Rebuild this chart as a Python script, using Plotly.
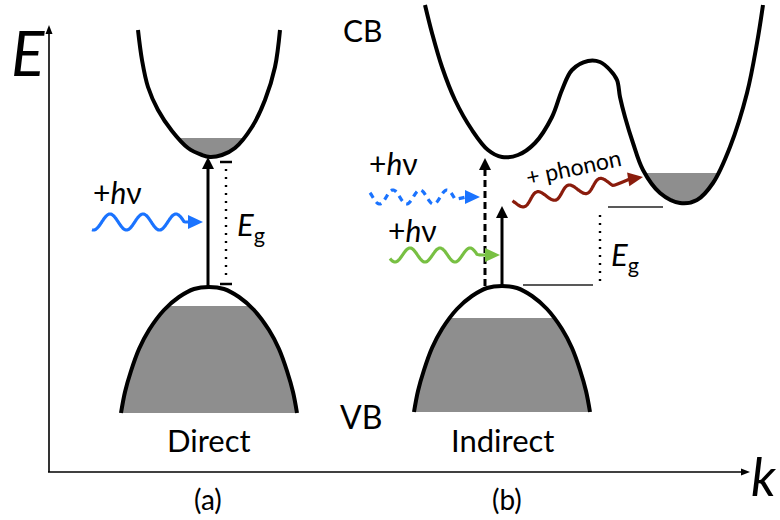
import numpy as np
import plotly.graph_objects as go

# ---- band curves: k position and energy row (energy grows upward on screen) ----
direct_cb_k = [138, 142, 148, 158, 172, 188, 202, 210, 222, 235, 252, 265, 275, 280]
direct_cb_E = [30, 60, 87, 110, 131, 148, 155, 157, 155, 148, 127, 100, 67, 30]

direct_vb_k = [121, 125, 131, 139, 149, 164, 179, 194, 209, 224, 239, 254, 269, 279, 287, 293, 297]
direct_vb_E = [413, 392, 371, 349, 330, 310, 297, 289, 287, 289, 297, 310, 330, 349, 371, 392, 413]

indirect_cb_k = [425, 432, 442, 455, 472, 488, 502, 518, 535, 552, 562, 572, 588, 600, 610,
                 617, 620, 625, 633, 643, 660, 680, 697, 713, 730, 747, 757, 763]
indirect_cb_E = [5, 33, 67, 100, 130, 150, 157, 155, 143, 117, 90, 70, 61, 62, 70,
                 80, 97, 117, 143, 170, 193, 203, 200, 183, 147, 93, 43, 5]

indirect_vb_k = [414, 418, 424, 432, 442, 457, 472, 487, 502, 517, 532, 547, 562, 572, 580, 586, 590]
indirect_vb_E = [412, 391, 370, 348, 329, 309, 296, 288, 286, 288, 296, 309, 329, 348, 370, 391, 412]

# occupation levels (filled states)
direct_cb_fill = 138
direct_vb_fill = 306
indirect_cb_fill = 173
indirect_vb_fill = 318

# transitions: (k, E_start, E_end)
direct_arrow = [208, 286, 157]
indirect_dashed_arrow = [485, 286, 158]
indirect_solid_arrow = [502, 286, 206]

# gap markers
direct_gap = [226, 162, 284]           # k, top, bottom
indirect_gap_top = [608, 663, 207]     # k0, k1, E
indirect_gap_bottom = [523, 593, 285]  # k0, k1, E
indirect_gap_k = 600

# photons / phonon: start (k, E), wave end (k, E), tip (k, E)
photon_direct = [(92, 222), (184, 222), (203, 222)]
photon_indirect_blue = [(370, 197), (455, 197), (480, 197)]
photon_indirect_green = [(390, 255), (477, 255), (500, 255)]
phonon_path = [(513, 203), (612, 182), (643, 177)]

BLUE = "#1a73ff"
GREEN = "#78c043"
DARKRED = "#8a1c0c"
GREY = "#8e8e8e"
FONT = "Lato"

fig = go.Figure()


def add_line(x, y, color="black", width=4, dash=None, shape="linear"):
    fig.add_trace(go.Scatter(x=x, y=y, mode="lines", hoverinfo="skip",
                             line=dict(color=color, width=width, dash=dash, shape=shape)))


def add_poly(x, y, color):
    fig.add_trace(go.Scatter(x=x, y=y, mode="lines", fill="toself", fillcolor=color,
                             line=dict(width=0, color=color), hoverinfo="skip"))


def fill_region(k, e, level):
    """Polygon of the curve part lying below the occupation level (screen-wise)."""
    px, py = [], []
    for i in range(len(k)):
        if i > 0 and (e[i - 1] - level) * (e[i] - level) < 0:
            t = (level - e[i - 1]) / (e[i] - e[i - 1])
            px.append(k[i - 1] + t * (k[i] - k[i - 1]))
            py.append(level)
        if e[i] >= level:
            px.append(k[i])
            py.append(e[i])
    return px, py


def arrowhead(tip, direction, length, half, color):
    d = np.array(direction, float)
    d /= np.linalg.norm(d)
    n = np.array([-d[1], d[0]])
    tip = np.array(tip, float)
    base = tip - d * length
    p1 = base + n * half
    p2 = base - n * half
    add_poly([tip[0], p1[0], p2[0], tip[0]], [tip[1], p1[1], p2[1], tip[1]], color)


def photon(path, color, period, amp, first_peak, width=3.2, dash=None, head=(15, 7)):
    (x0, y0), (x1, y1), (xt, yt) = path
    d = np.array([x1 - x0, y1 - y0], float)
    L = np.linalg.norm(d)
    d /= L
    n = np.array([d[1], -d[0]])  # perpendicular pointing up on screen
    s = np.linspace(0, L, 200)
    phase = np.pi / 2 - 2 * np.pi * first_peak / period
    off = amp * np.sin(2 * np.pi * s / period + phase)
    wx = x0 + d[0] * s + n[0] * off
    wy = y0 + d[1] * s + n[1] * off
    tipdir = np.array([xt - x1, yt - y1], float)
    tipdir /= np.linalg.norm(tipdir)
    bx, by = xt - tipdir[0] * (head[0] - 1), yt - tipdir[1] * (head[0] - 1)
    add_line(list(wx) + [bx], list(wy) + [by], color=color, width=width, dash=dash,
             shape="spline")
    arrowhead((xt, yt), tipdir, head[0], head[1], color)


# ---- occupied states ----
for k, e, lvl in [(direct_cb_k, direct_cb_E, direct_cb_fill),
                  (direct_vb_k, direct_vb_E, direct_vb_fill),
                  (indirect_cb_k, indirect_cb_E, indirect_cb_fill),
                  (indirect_vb_k, indirect_vb_E, indirect_vb_fill)]:
    px, py = fill_region(k, e, lvl)
    add_poly(px, py, GREY)

# ---- band curves ----
for k, e in [(direct_cb_k, direct_cb_E), (direct_vb_k, direct_vb_E),
             (indirect_cb_k, indirect_cb_E), (indirect_vb_k, indirect_vb_E)]:
    add_line(k, e, width=4, shape="spline")

# ---- axes ----
add_line([49, 49], [472, 33], width=1.6)
arrowhead((49, 25), (0, -1), 9, 3.5, "black")
add_line([48, 742], [472, 472], width=1.6)
arrowhead((750, 472), (1, 0), 9, 3.5, "black")

# ---- transitions ----
kx, e0, e1 = direct_arrow
add_line([kx, kx], [e0, e1 + 10], width=3)
arrowhead((kx, e1), (0, -1), 12, 6, "black")

kx, e0, e1 = indirect_dashed_arrow
add_line([kx, kx], [e0, e1 + 10], width=3, dash="7px,4px")
arrowhead((kx, e1), (0, -1), 12, 6, "black")

kx, e0, e1 = indirect_solid_arrow
add_line([kx, kx], [e0, e1 + 10], width=3)
arrowhead((kx, e1), (0, -1), 12, 6, "black")

# ---- gap markers ----
kx, et, eb = direct_gap
add_line([kx, kx], [et + 7, eb - 5], width=2.4, dash="2px,6px")
add_line([kx - 6, kx + 6], [et, et], width=2.5)
add_line([kx - 6, kx + 6], [eb, eb], width=2.5)

add_line(indirect_gap_top[:2], [indirect_gap_top[2]] * 2, color="#222222", width=1.3)
add_line(indirect_gap_bottom[:2], [indirect_gap_bottom[2]] * 2, color="#222222", width=1.3)
add_line([indirect_gap_k, indirect_gap_k], [215, 283], width=2.4, dash="2px,6px")

# ---- photons and phonon ----
photon(photon_direct, BLUE, 33, 8, 18)
photon(photon_indirect_blue, BLUE, 27, 7, 23, dash="6px,5px")
photon(photon_indirect_green, GREEN, 30, 7, 20)
photon(phonon_path, DARKRED, 32, 6, 26)

# ---- text ----
def label(x, y, text, size, angle=0, color="black"):
    fig.add_annotation(x=x, y=y, xref="x", yref="y", text=text, showarrow=False,
                       xanchor="center", yanchor="middle", textangle=angle,
                       font=dict(family=FONT, size=size, color=color))


label(28, 52, "<i>E</i>", 62)
label(764, 476, "<i>k</i>", 52)
label(362, 30, "CB", 30)
label(361, 416, "VB", 32)
label(209, 440, "Direct", 31)
label(502, 440, "Indirect", 31)
label(208, 499, "(a)", 28)
label(507, 499, "(b)", 28)
label(117, 192, "+<i>h</i>ν", 30)
label(393, 163, "+<i>h</i>ν", 30)
label(412, 230, "+<i>h</i>ν", 30)
label(251, 226, "<i>E</i><sub>g</sub>", 31)
label(625, 256, "<i>E</i><sub>g</sub>", 31)
label(573, 167, "+ phonon", 23, angle=-12)

fig.update_layout(
    width=780, height=520, margin=dict(l=0, r=0, t=0, b=0),
    paper_bgcolor="white", plot_bgcolor="white", showlegend=False,
    xaxis=dict(range=[0, 780], visible=False, fixedrange=True),
    yaxis=dict(range=[520, 0], visible=False, fixedrange=True),
)

fig.write_html("out.html")
